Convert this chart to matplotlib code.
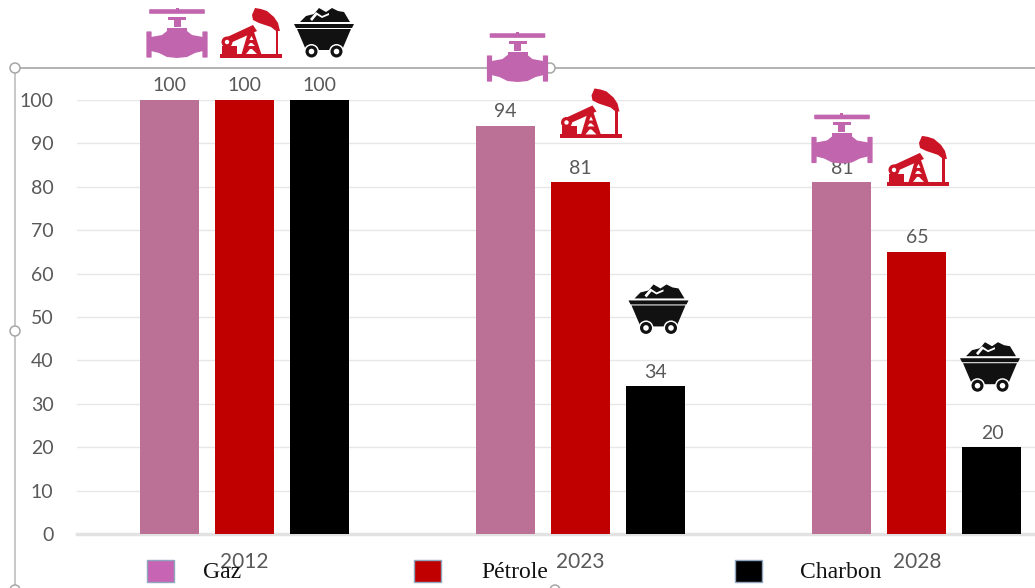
import numpy as np
import matplotlib
matplotlib.use('Agg')
import matplotlib.pyplot as plt
from matplotlib.patches import Rectangle, Circle, Polygon, FancyBboxPatch
from matplotlib.lines import Line2D
from matplotlib.transforms import Affine2D

years = ['2012', '2023', '2028']
series_names = ['Gaz', 'Pétrole', 'Charbon']
gaz = [100, 94, 81]
petrole = [100, 81, 65]
charbon = [100, 34, 20]
y_ticks = [0, 10, 20, 30, 40, 50, 60, 70, 80, 90, 100]

W, H = 1035, 588
GAS, OIL, COAL = '#BB7096', '#C00000', '#000000'
GAS_ICON, OIL_ICON, COAL_ICON = '#C165AE', '#CB1526', '#111111'
GREY = '#595959'
plt.rcParams['font.family'] = ['Lato', 'DejaVu Sans']

fig = plt.figure(figsize=(W / 100, H / 100), dpi=100)
ax = fig.add_axes([77 / W, 1 - 534 / H, (W - 77) / W, 434 / H])

# pixel coords with the origin top-left, for the frame and legend
px = Affine2D().scale(1, -1).translate(0, H)

# --- bars ---
x = np.arange(len(years))
step = 75 / 336.5
width = 59 / 336.5
bars_g = ax.bar(x - step, gaz, width, color=GAS, zorder=3)
bars_o = ax.bar(x, petrole, width, color=OIL, zorder=3)
bars_c = ax.bar(x + step, charbon, width, color=COAL, zorder=3)
for b in (bars_g, bars_o, bars_c):
    ax.bar_label(b, padding=4, fontsize=14, color=GREY, zorder=4)

ax.set_xlim(-167 / 336.5, 791 / 336.5)
ax.set_ylim(0, 100)
ax.set_yticks(y_ticks)
ax.set_xticks(x, years)
ax.grid(axis='y', color='#E7E7E7', linewidth=1, zorder=0)
ax.set_axisbelow(True)
for s in ax.spines.values():
    s.set_visible(False)
ax.tick_params(axis='y', length=0, pad=17, labelsize=14, labelcolor=GREY)
ax.tick_params(axis='x', length=0, pad=13, labelsize=15, labelcolor=GREY)
ax.axhline(0, color='#E2E2E2', linewidth=2.5, zorder=1, clip_on=False)


# --- icons, drawn around (0, 0) = bottom centre, in pixels ---
def valve_icon():
    c = GAS_ICON
    parts = [
        FancyBboxPatch((-27, 45), 54, 3, boxstyle='round,pad=0.8'),
        Rectangle((-1.5, 48), 3, 2),
        Rectangle((-9, 38), 18, 3),
        Rectangle((-3.5, 31), 7, 8),
        Rectangle((-10, 25), 20, 5),
        Polygon([(-26, 21), (-15, 23), (-10, 27), (10, 27), (15, 23), (26, 21),
                 (26, 7), (18, 5), (10, 1), (0, 0), (-10, 1), (-18, 5), (-26, 7)]),
        FancyBboxPatch((-30, 1), 4, 25, boxstyle='round,pad=0.6'),
        FancyBboxPatch((26, 1), 4, 25, boxstyle='round,pad=0.6'),
    ]
    return [(p, c) for p in parts]


def pump_icon():
    c = OIL_ICON
    w = '#FFFFFF'
    parts = [
        (Rectangle((-31, 0), 62, 4), c),
        (Polygon([(-26, 20), (2, 33), (6, 27), (-23, 14)]), c),
        (Polygon([(1, 43), (4, 50), (10, 49), (16, 47), (23, 41), (27, 35), (29, 27),
                  (25, 27), (20, 31), (14, 33), (8, 35), (2, 38)]), c),
        (Rectangle((24.5, 2), 2.5, 27), c),
        (Polygon([(-10, 2), (11, 2), (2, 29), (-2, 29)]), c),
        (Polygon([(-5, 4), (6, 4), (1, 9), (-1, 9)]), w),
        (Polygon([(-3, 12), (4, 12), (1, 15), (-1, 15)]), w),
        (Polygon([(-1.5, 18), (2.5, 18), (0.5, 22)]), w),
        (Circle((-24, 16), 5.5), c),
        (Circle((-24, 16), 2.2), w),
        (Rectangle((-29, 3), 15, 9), c),
    ]
    return parts


def coal_icon():
    c = COAL_ICON
    w = '#FFFFFF'
    parts = [
        (Polygon([(-24, 36), (-18, 42), (-10, 44), (-5, 50), (2, 46), (8, 50),
                  (14, 47), (20, 46), (26, 36)]), c),
        (Polygon([(-14, 39), (-8, 46), (-2, 42), (5, 45), (5, 43), (-2, 40),
                  (-7, 43), (-12, 37)]), w),
        (Polygon([(-30, 34), (30, 34), (28, 30), (-28, 30)]), c),
        (Polygon([(-27, 29), (27, 29), (18, 8), (-18, 8)]), c),
        (Circle((-12.5, 6.5), 7.5), w),
        (Circle((12.5, 6.5), 7.5), w),
        (Circle((-12.5, 6.5), 6), c),
        (Circle((12.5, 6.5), 6), c),
        (Circle((-12.5, 6.5), 2.8), w),
        (Circle((12.5, 6.5), 2.8), w),
    ]
    return parts


def place_icon(draw, xv, yv, dx, gap):
    ax_x, ax_y = ax.transData.transform((xv, yv))
    tr = Affine2D().translate(ax_x + dx, ax_y + gap)
    for patch, colour in draw():
        patch.set_facecolor(colour)
        patch.set_edgecolor('none')
        patch.set_transform(tr)
        patch.set_zorder(6)
        fig.add_artist(patch)


# icon offset from the bar's top centre, in pixels
gas_dx, gas_gaps = [8, 12, 0], [42, 44, 19]
oil_dx, oil_gaps = [7, 10, 1], [42, 44, 66]
coal_dx, coal_gaps = [5, 3, -2], [42, 52, 55]
for i in range(len(years)):
    place_icon(valve_icon, x[i] - step, gaz[i], gas_dx[i], gas_gaps[i])
    place_icon(pump_icon, x[i], petrole[i], oil_dx[i], oil_gaps[i])
    place_icon(coal_icon, x[i] + step, charbon[i], coal_dx[i], coal_gaps[i])

# --- selection frame left over in the picture ---
frame = '#A6A6A6'
fig.add_artist(Line2D([15, W], [68, 68], color=frame, lw=1.2, transform=px, zorder=5))
fig.add_artist(Line2D([15, 15], [68, H], color='#BDBDBD', lw=1.2, transform=px, zorder=5))
for hx, hy in [(15, 68), (15, 331), (550, 68), (15, 590), (555, 590)]:
    fig.add_artist(Circle((hx, hy), 5, facecolor='white', edgecolor=frame, lw=1.1,
                          transform=px, zorder=5.5))

# --- legend, placed by hand because the gaps are uneven ---
legend_box_x = [147, 414, 735]
legend_text_x = [203, 481, 800]
legend_colours = ['#C864B4', OIL, COAL]
for name, bx, tx, col in zip(series_names, legend_box_x, legend_text_x, legend_colours):
    fig.add_artist(Rectangle((bx, 560), 27, 22, facecolor=col, edgecolor='#8FA6C0',
                             lw=1, transform=px, zorder=5))
    fig.text(tx, 572, name, transform=px, family='Liberation Serif', fontsize=17,
             color='#111111', va='center', ha='left', zorder=7)

fig.savefig('out.png', dpi=100)
